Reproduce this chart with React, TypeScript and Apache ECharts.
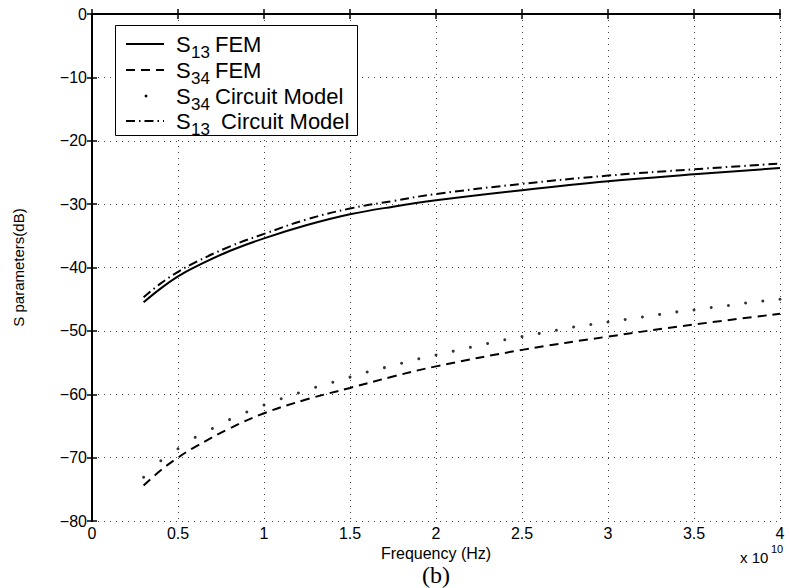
import React, { useEffect, useRef } from "react";
import * as echarts from "echarts";

// Frequency in units of 1e10 Hz
const freq = [0.3, 0.4, 0.5, 0.6, 0.8, 1.0, 1.25, 1.5, 1.75, 2.0, 2.5, 3.0, 3.5, 4.0];
const s13Fem = [-45.5, -43.3, -41.4, -39.9, -37.4, -35.4, -33.3, -31.6, -30.4, -29.4, -27.8, -26.4, -25.3, -24.3];
const s13Circuit = [-44.7, -42.5, -40.7, -39.2, -36.7, -34.7, -32.4, -30.7, -29.5, -28.4, -26.8, -25.5, -24.5, -23.6];
const s34Fem = [-74.4, -72.0, -70.0, -68.3, -65.4, -63.0, -60.8, -59.0, -57.2, -55.6, -53.0, -50.9, -49.0, -47.3];

const freqDots = [0.3, 0.4, 0.5, 0.6, 0.7, 0.8, 0.9, 1.0, 1.1, 1.2, 1.3, 1.4, 1.5, 1.6, 1.7, 1.8, 1.9, 2.0,
  2.1, 2.2, 2.3, 2.4, 2.5, 2.6, 2.7, 2.8, 2.9, 3.0, 3.1, 3.2, 3.3, 3.4, 3.5, 3.6, 3.7, 3.8, 3.9, 4.0];
const s34Circuit = [-73.1, -70.5, -68.6, -66.8, -65.4, -64.0, -62.8, -61.7, -60.7, -59.8, -58.9, -58.1, -57.3, -56.5,
  -55.8, -55.1, -54.4, -53.8, -53.2, -52.6, -52.0, -51.4, -50.9, -50.4, -49.9, -49.4, -49.0, -48.6, -48.2, -47.8,
  -47.4, -47.0, -46.7, -46.3, -46.0, -45.6, -45.3, -45.0];

const xTicks = ["0", "0.5", "1", "1.5", "2", "2.5", "3", "3.5", "4"];
const legendItems = [
  { sub: "13", rest: "FEM", dash: "solid" },
  { sub: "34", rest: "FEM", dash: "dashed" },
  { sub: "34", rest: "Circuit Model", dash: "dots" },
  { sub: "13", rest: " Circuit Model", dash: "dashdot" },
];

const FONT = "Liberation Sans";

function pairs(xs: number[], ys: number[]) {
  return xs.map((x, i) => [x, ys[i]]);
}

export default function App() {
  const ref = useRef<HTMLDivElement>(null);
  useEffect(() => {
    if (!ref.current) return;
    const chart = echarts.init(ref.current, undefined, { renderer: "svg" });
    const gridLeft = 92, gridTop = 14, gridRight = 10, gridBottom = 67;

    const axisLine = { show: true, lineStyle: { color: "#000", width: 2 } };
    const tick = { show: true, inside: true, length: 5, lineStyle: { color: "#000", width: 1.5 } };
    const split = { show: true, lineStyle: { color: "#444", width: 1, type: [1, 5] as any } };

    const legendGraphics: any[] = [
      {
        type: "rect",
        shape: { x: 115.5, y: 25.5, width: 242, height: 110 },
        style: { fill: "#fff", stroke: "#000", lineWidth: 1 },
        z: 100,
      },
    ];
    const rowY = [44, 70, 96, 121];
    legendItems.forEach((it, i) => {
      const y = rowY[i];
      if (it.dash === "dots") {
        legendGraphics.push({ type: "circle", shape: { cx: 146, cy: y, r: 1.4 }, style: { fill: "#000" }, z: 101 });
      } else {
        const lineDash = it.dash === "solid" ? null : it.dash === "dashed" ? [9, 6] : [9, 4, 1.5, 4];
        legendGraphics.push({
          type: "line",
          shape: { x1: 126, y1: y, x2: 164, y2: y },
          style: { stroke: "#000", lineWidth: 2, lineDash },
          z: 101,
        });
      }
      legendGraphics.push({
        type: "text", x: 176, y, z: 101,
        style: { text: "S", font: `22px "${FONT}"`, fill: "#000", verticalAlign: "middle" },
      });
      legendGraphics.push({
        type: "text", x: 191, y: y + 8, z: 101,
        style: { text: it.sub, font: `17px "${FONT}"`, fill: "#000", verticalAlign: "middle" },
      });
      legendGraphics.push({
        type: "text", x: 215, y, z: 101,
        style: { text: it.rest, font: `22px "${FONT}"`, fill: "#000", verticalAlign: "middle" },
      });
    });

    const option: any = {
      animation: false,
      backgroundColor: "#fff",
      grid: { left: gridLeft, top: gridTop, right: gridRight, bottom: gridBottom, containLabel: false },
      xAxis: [
        {
          type: "value", min: 0, max: 4, interval: 0.5, position: "bottom",
          axisLine, axisTick: tick, splitLine: split,
          axisLabel: {
            color: "#000", fontSize: 16, fontFamily: FONT, margin: 4,
            formatter: (v: number) => xTicks[Math.round(v * 2)] ?? String(v),
          },
          name: "Frequency (Hz)", nameLocation: "middle", nameGap: 20,
          nameTextStyle: { color: "#000", fontSize: 16, fontFamily: FONT, lineHeight: 16 },
        },
        {
          type: "value", min: 0, max: 4, interval: 0.5, position: "top",
          axisLine, axisTick: tick, splitLine: { show: false }, axisLabel: { show: false },
        },
      ],
      yAxis: [
        {
          type: "value", min: -80, max: 0, interval: 10, position: "left",
          axisLine, axisTick: tick, splitLine: split,
          axisLabel: {
            color: "#000", fontSize: 16, fontFamily: FONT, margin: 5,
            formatter: (v: number) => (v < 0 ? "\u2212" + Math.abs(v) : String(v)),
          },
          name: "S parameters(dB)", nameLocation: "middle", nameGap: 66,
          nameTextStyle: { color: "#000", fontSize: 15, fontFamily: FONT },
        },
        {
          type: "value", min: -80, max: 0, interval: 10, position: "right",
          axisLine, axisTick: tick, splitLine: { show: false }, axisLabel: { show: false },
        },
      ],
      series: [
        {
          name: "S13 FEM", type: "line", data: pairs(freq, s13Fem), smooth: 0.4, symbol: "none",
          lineStyle: { color: "#000", width: 2, type: "solid" }, z: 5,
        },
        {
          name: "S34 FEM", type: "line", data: pairs(freq, s34Fem), smooth: 0.4, symbol: "none",
          lineStyle: { color: "#000", width: 2, type: [9, 6] }, z: 5,
        },
        {
          name: "S34 Circuit Model", type: "scatter", data: pairs(freqDots, s34Circuit),
          symbol: "circle", symbolSize: 3, itemStyle: { color: "#000" }, z: 5,
        },
        {
          name: "S13 Circuit Model", type: "line", data: pairs(freq, s13Circuit), smooth: 0.4, symbol: "none",
          lineStyle: { color: "#000", width: 2, type: [9, 4, 1.5, 4] }, z: 5,
        },
      ],
      graphic: [
        ...legendGraphics,
        {
          type: "text", x: 740, y: 557,
          style: { text: "x 10", font: `15px "${FONT}"`, fill: "#000", verticalAlign: "middle" },
        },
        {
          type: "text", x: 771, y: 549,
          style: { text: "10", font: `11px "${FONT}"`, fill: "#000", verticalAlign: "middle" },
        },
        {
          type: "text", x: 436, y: 575,
          style: { text: "(b)", font: `24px "Liberation Serif"`, fill: "#000", align: "center", verticalAlign: "middle" },
        },
      ],
    };
    chart.setOption(option);
    return () => chart.dispose();
  }, []);
  return (
    <div
      ref={ref}
      style={{ position: "fixed", left: 0, top: 0, width: 790, height: 588, background: "#fff" }}
    />
  );
}
